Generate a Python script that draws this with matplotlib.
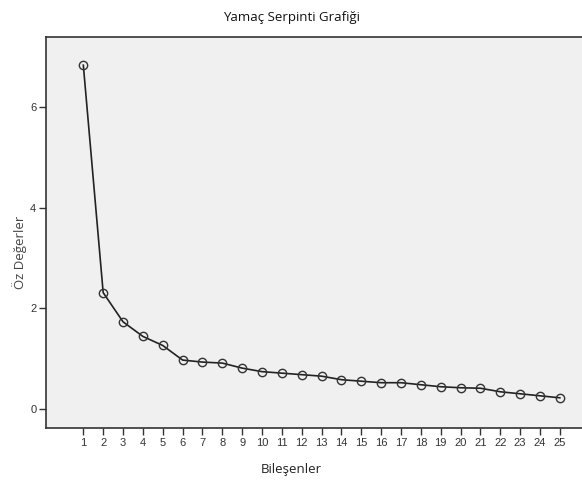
import matplotlib
matplotlib.use("Agg")
import matplotlib.pyplot as plt

components = list(range(1, 26))
eigenvalues = [6.83, 2.31, 1.73, 1.44, 1.26, 0.97, 0.93, 0.91, 0.81, 0.74,
               0.71, 0.68, 0.65, 0.58, 0.55, 0.52, 0.52, 0.48, 0.44, 0.42,
               0.41, 0.34, 0.30, 0.26, 0.22]
y_ticks = [0, 2, 4, 6]

plt.rcParams['font.family'] = ['Open Sans', 'DejaVu Sans']

fig = plt.figure(figsize=(5.82, 4.83), dpi=100)
ax = fig.add_axes([46 / 582, 1 - 428 / 483, 1 - 46 / 582 + 0.01, (428 - 37) / 483])
ax.set_facecolor('#f0f0f0')

ax.plot(components, eigenvalues, color='#222222', lw=1.2, marker='o',
        markersize=6, markerfacecolor='none', markeredgecolor='#333333',
        markeredgewidth=1.0)

ax.set_xlim(-0.88, 26.41)
ax.set_ylim(-0.38, 7.39)
ax.set_xticks(components)
ax.set_yticks(y_ticks)
ax.tick_params(axis='both', direction='out', length=5, width=1, labelsize=8,
               colors='#333333', pad=2)
for lab in ax.get_xticklabels() + ax.get_yticklabels():
    lab.set_family(['Liberation Sans', 'DejaVu Sans'])

for side in ['top', 'left', 'bottom']:
    ax.spines[side].set_color('#333333')
    ax.spines[side].set_linewidth(1.2)
ax.spines['right'].set_visible(False)

fig.text(291 / 582, 1 - 17 / 483, 'Yamaç Serpinti Grafiği', ha='center',
         va='center', fontsize=9.5, color='#111111')
fig.text(291 / 582, 1 - 469 / 483, 'Bileşenler', ha='center', va='center',
         fontsize=9.5, color='#222222')
fig.text(20 / 582, 1 - 252 / 483, 'Öz Değerler', ha='center', va='center',
         rotation=90, fontsize=9.5, color='#444444')

fig.savefig('out.png', dpi=100)
